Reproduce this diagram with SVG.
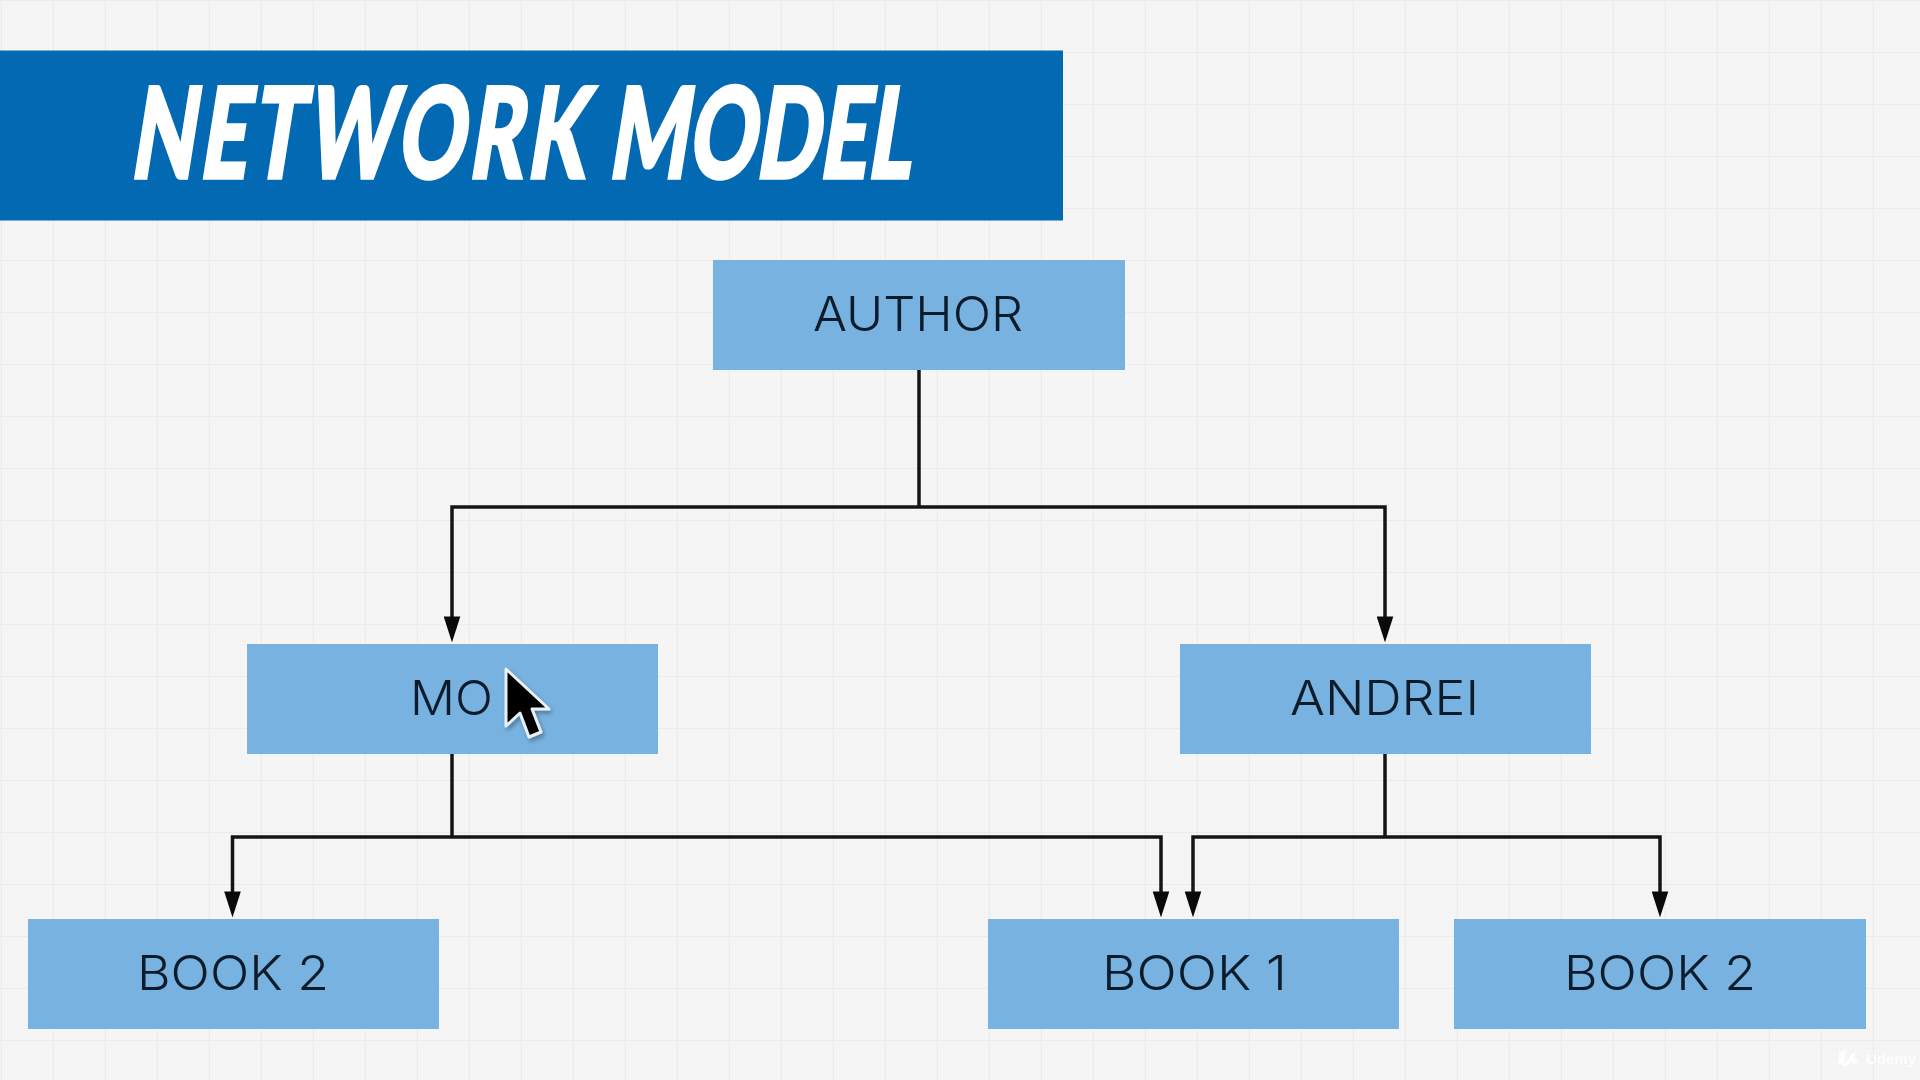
<svg xmlns="http://www.w3.org/2000/svg" width="1920" height="1080" viewBox="0 0 1920 1080">
<style>
.box{fill:#78b2e0}
.lbl{font-family:Inter,"Open Sans","Liberation Sans",sans-serif;font-weight:300;font-size:48px;fill:#0d1c2a;text-anchor:start;filter:url(#soft)}
.ln{fill:none;stroke:#141414;stroke-width:3.500}
.ttl{font-family:Lato,"Liberation Sans",sans-serif;font-weight:900;font-size:126px;fill:#fff;stroke:#fff;stroke-width:3.500px}
</style>
<defs>
<pattern id="fine" width="4" height="4" patternUnits="userSpaceOnUse"><rect width="4" height="4" fill="#f5f5f5"/><rect width="1" height="1" fill="#efefef"/></pattern>
<pattern id="grid" x="1" y="0" width="52" height="52" patternUnits="userSpaceOnUse"><path d="M0 0H52M0 0V52" fill="none" stroke="#ebebeb" stroke-width="2"/></pattern>
<marker id="ah" markerUnits="userSpaceOnUse" markerWidth="26" markerHeight="17" refX="15" refY="8" orient="auto" viewBox="0 0 25 16"><path d="M0 0L25 8L0 16Z" fill="#0a0a0a"/></marker>
<filter id="sh" x="-30%" y="-30%" width="160%" height="160%"><feDropShadow dx="2" dy="3" stdDeviation="2" flood-color="#000" flood-opacity=".3"/></filter>
<filter id="soft" x="-5%" y="-5%" width="110%" height="110%"><feGaussianBlur stdDeviation=".5"/></filter>
</defs>
<rect width="1920" height="1080" fill="url(#fine)"/>
<rect width="1920" height="1080" fill="url(#grid)"/>
<g id="title">
<rect x="0" y="50.500" width="1063" height="170" fill="#0369b3"/>
<text class="ttl" transform="translate(129 178) skewX(-9) scale(.66 1)" textLength="688" lengthAdjust="spacing">NETWORK</text>
<text class="ttl" transform="translate(607 178) skewX(-9) scale(.66 1)" textLength="458" lengthAdjust="spacing">MODEL</text>
</g>
<g id="connectors">
<path class="ln" d="M919 369V507"/>
<path class="ln" d="M919 507H452V632" marker-end="url(#ah)"/>
<path class="ln" d="M919 507H1385V632" marker-end="url(#ah)"/>
<path class="ln" d="M452 754V837"/>
<path class="ln" d="M452 837H232.500V907" marker-end="url(#ah)"/>
<path class="ln" d="M452 837H1161V907" marker-end="url(#ah)"/>
<path class="ln" d="M1385 754V837"/>
<path class="ln" d="M1385 837H1193V907" marker-end="url(#ah)"/>
<path class="ln" d="M1385 837H1660V907" marker-end="url(#ah)"/>
</g>
<g id="node-author"><rect class="box" x="713" y="260" width="412" height="110"/><text class="lbl" x="813" y="331" textLength="210" lengthAdjust="spacingAndGlyphs">AUTHOR</text></g>
<g id="node-mo"><rect class="box" x="247" y="644" width="411" height="110"/><text class="lbl" x="410" y="715" textLength="83" lengthAdjust="spacingAndGlyphs">MO</text></g>
<g id="node-andrei"><rect class="box" x="1180" y="644" width="411" height="110"/><text class="lbl" x="1290" y="715" textLength="189" lengthAdjust="spacingAndGlyphs">ANDREI</text></g>
<g id="node-book2-left"><rect class="box" x="28" y="919" width="411" height="110"/><text class="lbl" x="137" y="990" textLength="192" lengthAdjust="spacingAndGlyphs">BOOK 2</text></g>
<g id="node-book1"><rect class="box" x="988" y="919" width="411" height="110"/><text class="lbl" x="1102" y="990" textLength="185" lengthAdjust="spacingAndGlyphs">BOOK 1</text></g>
<g id="node-book2-right"><rect class="box" x="1454" y="919" width="412" height="110"/><text class="lbl" x="1564" y="990" textLength="192" lengthAdjust="spacingAndGlyphs">BOOK 2</text></g>
<g id="cursor"><path d="M506 669V726L520 713L529 737L541 732L532 709L549 709Z" fill="#050505" stroke="#e8f0f6" stroke-width="3" stroke-linejoin="round" filter="url(#sh)"/></g>
<g id="watermark" filter="url(#soft)"><path d="M1842 1056C1840 1047 1842 1060 1839 1064M1845 1050C1842 1060 1842 1066 1846 1064C1850 1062 1851 1056 1853 1055C1852 1062 1853 1064 1857 1060" fill="none" stroke="#fff" stroke-width="3.500" opacity=".85"/><text x="1866" y="1064" font-family="'Liberation Sans',sans-serif" font-weight="700" font-size="15" fill="#fff" opacity=".8">Udemy</text></g>
</svg>
